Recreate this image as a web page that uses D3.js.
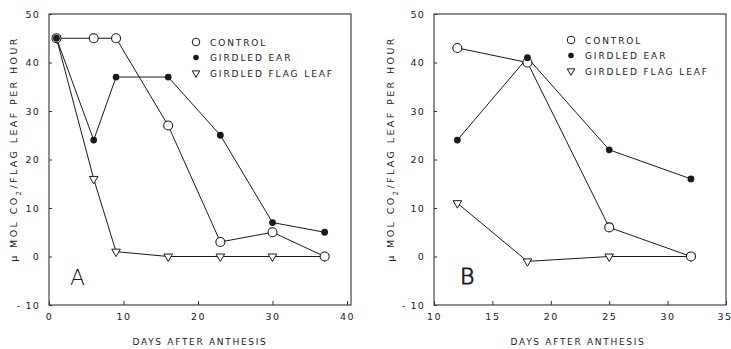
<!DOCTYPE html>
<html>
<head>
<meta charset="utf-8">
<script src="https://cdn.jsdelivr.net/npm/d3@7"></script>
<style>
  body { margin: 0; background: #fff; }
  svg { display: block; }
  text { font-family: "DejaVu Sans", sans-serif; fill: #1a1a1a; }
</style>
</head>
<body>
<svg id="chart" width="731" height="349"></svg>
<script>
// Panel A: photosynthesis of the flag leaf vs days after anthesis
const daysA = [1, 6, 9, 16, 23, 30, 37];
const controlA = [45, 45, 45, 27, 3, 5, 0];
const earA = [45, 24, 37, 37, 25, 7, 5];
const flagA = [45, 16, 1, 0, 0, 0, 0];

// Panel B
const daysB = [12, 18, 25, 32];
const controlB = [43, 40, 6, 0];
const earB = [24, 41, 22, 16];
const flagB = [11, -1, 0, 0];

const yTicks = [-10, 0, 10, 20, 30, 40, 50];
const xTicksA = [0, 10, 20, 30, 40];
const xTicksB = [10, 15, 20, 25, 30, 35];
const legendLabels = ["CONTROL", "GIRDLED EAR", "GIRDLED FLAG LEAF"];
const xTitle = "DAYS AFTER ANTHESIS";

const svg = d3.select("#chart");
const ink = "#1a1a1a";

function panel(cfg) {
  const x = d3.scaleLinear().domain(cfg.xDomain).range(cfg.xRange);
  const y = d3.scaleLinear().domain([-10, 50]).range([305, 14]);
  const g = svg.append("g");

  // frame
  g.append("rect")
    .attr("x", cfg.xRange[0]).attr("y", 14)
    .attr("width", cfg.frameRight - cfg.xRange[0]).attr("height", 291)
    .attr("fill", "none").attr("stroke", "#333").attr("stroke-width", 1.1);

  // y axis, ticks pointing inward
  const ya = g.append("g")
    .attr("transform", `translate(${cfg.xRange[0]},0)`)
    .call(d3.axisLeft(y).tickValues(yTicks).tickSize(-3).tickPadding(9)
      .tickFormat(d => d < 0 ? "- " + Math.abs(d) : d));
  ya.select(".domain").remove();
  ya.selectAll("line").attr("stroke", "#333");
  ya.selectAll("text").style("font-size", "9.5px").style("letter-spacing", "1.2px")
    .attr("fill", ink);

  // x axis, ticks pointing inward
  const xa = g.append("g")
    .attr("transform", "translate(0,305)")
    .call(d3.axisBottom(x).tickValues(cfg.xTicks).tickSize(-4).tickPadding(8));
  xa.select(".domain").remove();
  xa.selectAll("line").attr("stroke", "#333");
  xa.selectAll("text").style("font-size", "9.5px").style("letter-spacing", "1.5px")
    .attr("fill", ink);
  // keep the last label inside the page edge
  if (cfg.lastLabelEnd) {
    xa.selectAll("text").filter(d => d === cfg.xTicks[cfg.xTicks.length - 1])
      .attr("text-anchor", "end").attr("dx", "6");
  }

  // axis titles
  g.append("text")
    .attr("x", cfg.xTitleX).attr("y", 345)
    .attr("text-anchor", "middle")
    .style("font-size", "9px").style("letter-spacing", "1.7px")
    .text(xTitle);

  const yl = g.append("text")
    .attr("transform", `translate(${cfg.yTitleX},149) rotate(-90)`)
    .attr("text-anchor", "middle")
    .style("font-size", "9.5px").style("letter-spacing", "2.4px");
  yl.append("tspan").text("\u03BC MOL CO");
  yl.append("tspan").attr("baseline-shift", "sub").style("font-size", "7px").text("2");
  yl.append("tspan").text("/FLAG LEAF PER HOUR");

  // series lines
  const line = (xs, ys) => d3.line().x((d, i) => x(xs[i])).y(d => y(d))(ys);
  [cfg.flag, cfg.control, cfg.ear].forEach(s => {
    g.append("path").attr("d", line(cfg.days, s))
      .attr("fill", "none").attr("stroke", ink).attr("stroke-width", 1);
  });

  // markers: open triangles, open circles, filled dots
  const tri = d3.symbol().type(d3.symbolTriangle).size(32);
  g.selectAll(null).data(cfg.flag).join("path")
    .attr("d", tri)
    .attr("transform", (d, i) => `translate(${x(cfg.days[i])},${y(d)}) rotate(180)`)
    .attr("fill", "#fff").attr("stroke", ink).attr("stroke-width", 1);
  g.selectAll(null).data(cfg.control).join("circle")
    .attr("cx", (d, i) => x(cfg.days[i])).attr("cy", d => y(d)).attr("r", 4.5)
    .attr("fill", "#fff").attr("stroke", ink).attr("stroke-width", 1.1);
  g.selectAll(null).data(cfg.ear).join("circle")
    .attr("cx", (d, i) => x(cfg.days[i])).attr("cy", d => y(d)).attr("r", 3.4)
    .attr("fill", ink);

  // legend
  const lg = g.append("g").attr("transform", `translate(${cfg.legendX},${cfg.legendY})`);
  legendLabels.forEach((lab, i) => {
    const row = lg.append("g").attr("transform", `translate(0,${i * 15.5})`);
    if (i === 0) row.append("circle").attr("r", 3.8).attr("fill", "#fff").attr("stroke", ink);
    if (i === 1) row.append("circle").attr("r", 2.8).attr("fill", ink);
    if (i === 2) row.append("path").attr("d", d3.symbol().type(d3.symbolTriangle).size(24))
      .attr("transform", "rotate(180)").attr("fill", "#fff").attr("stroke", ink);
    row.append("text").attr("x", 14).attr("y", 3.5)
      .style("font-size", "9px").style("letter-spacing", "1.9px").text(lab);
  });

  // panel letter
  g.append("text")
    .attr("x", cfg.letterX).attr("y", cfg.letterY)
    .style("font-size", "22px").style("font-weight", "300")
    .attr("fill", cfg.letterOutline ? "#fff" : ink)
    .attr("stroke", cfg.letterOutline ? ink : "none").attr("stroke-width", 0.9)
    .text(cfg.letter);
}

panel({
  xDomain: [0, 40], xRange: [49, 347], frameRight: 351, xTicks: xTicksA,
  days: daysA, control: controlA, ear: earA, flag: flagA,
  xTitleX: 200, yTitleX: 17, legendX: 196, legendY: 42,
  letter: "A", letterX: 70, letterY: 285, letterOutline: false
});

panel({
  xDomain: [10, 35], xRange: [434, 726], frameRight: 726, xTicks: xTicksB,
  days: daysB, control: controlB, ear: earB, flag: flagB, lastLabelEnd: true,
  xTitleX: 578, yTitleX: 394, legendX: 571, legendY: 40,
  letter: "B", letterX: 460, letterY: 284, letterOutline: true
});
</script>
</body>
</html>
